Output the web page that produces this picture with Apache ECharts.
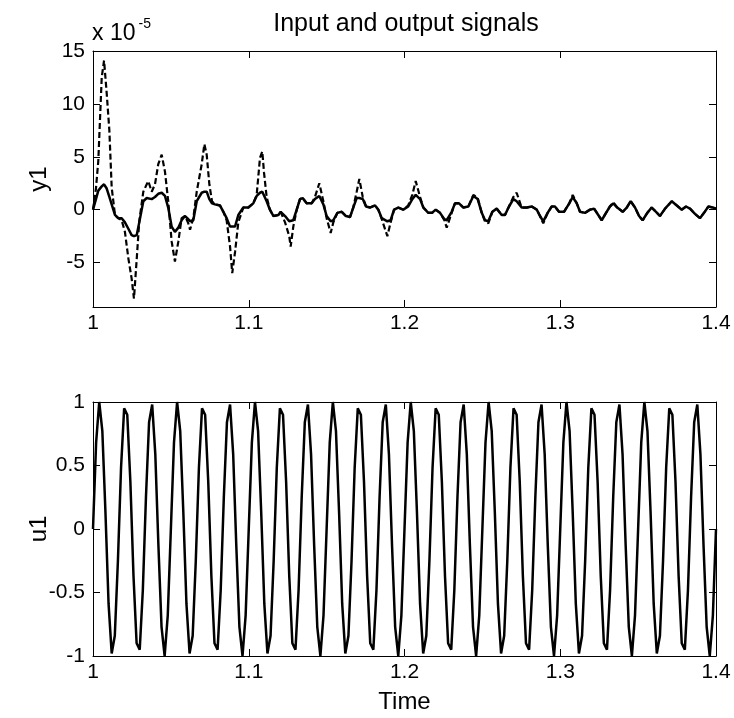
<!DOCTYPE html>
<html>
<head>
<meta charset="utf-8">
<script src="https://cdn.jsdelivr.net/npm/echarts@6/dist/echarts.min.js"></script>
<style>
html,body{margin:0;padding:0;background:#fff;}
#c{width:734px;height:718px;}
</style>
</head>
<body>
<div id="c"></div>
<script>
// ---- data ----
const titleText = 'Input and output signals';
const xTicks = [1, 1.1, 1.2, 1.3, 1.4];
const y1Ticks = [-5, 0, 5, 10, 15];
const u1Ticks = [-1, -0.5, 0, 0.5, 1];
const y1Exponent = '-5';

// y1 signals, in units of 1e-5
const y1Time = [
1.0000,1.0019,1.0034,1.0056,1.0071,1.0088,1.0105,1.0120,1.0141,1.0162,1.0184,1.0205,1.0227,1.0248,1.0263,1.0281,1.0297,
1.0323,1.0345,1.0355,1.0377,1.0398,1.0419,1.0441,1.0462,1.0483,1.0505,1.0526,1.0548,1.0569,1.0591,1.0612,1.0623,1.0644,
1.0666,1.0698,1.0715,1.0730,1.0747,1.0764,1.0783,1.0815,1.0837,1.0858,1.0880,1.0894,1.0912,1.0933,1.0965,1.0997,
1.1029,1.1051,1.1072,1.1087,1.1098,1.1115,1.1136,1.1158,1.1190,1.1205,1.1233,1.1260,1.1269,1.1286,1.1308,1.1329,1.1346,
1.1372,1.1404,1.1425,1.1453,1.1479,1.1500,1.1526,1.1543,1.1569,1.1597,1.1624,1.1650,1.1671,1.1693,1.1710,1.1732,1.1753,
1.1778,1.1811,1.1832,1.1854,1.1890,1.1911,1.1933,1.1960,1.1992,1.2024,1.2050,1.2072,1.2100,1.2121,1.2153,1.2177,1.2200,
1.2228,1.2256,1.2271,1.2303,1.2324,1.2350,1.2378,1.2410,1.2442,1.2470,1.2496,1.2517,1.2538,1.2564,1.2592,1.2624,1.2645,
1.2671,1.2699,1.2720,1.2752,1.2785,1.2817,1.2849,1.2870,1.2891,1.2919,1.2945,1.2966,1.2992,1.3024,1.3058,1.3080,1.3106,
1.3127,1.3159,1.3191,1.3217,1.3244,1.3266,1.3294,1.3319,1.3341,1.3366,1.3401,1.3427,1.3452,1.3480,1.3506,1.3529,1.3559,
1.3587,1.3615,1.3640,1.3673,1.3716,1.3748,1.3780,1.3807,1.3833,1.3865,1.3897,1.3923,1.3951,1.3979,1.4000
];
const y1Solid = [
0.0,1.0,1.8,2.2,2.4,2.0,1.2,0.5,-0.5,-0.8,-0.8,-1.2,-1.8,-2.4,-2.5,-2.4,-1.2,
0.8,1.1,1.1,1.0,1.2,1.5,1.6,1.3,0.2,-1.6,-2.1,-1.7,-1.0,-0.6,-0.9,-1.1,-1.0,
0.8,1.6,1.7,1.7,1.0,0.6,0.5,0.4,-0.2,-0.8,-1.6,-1.6,-1.6,-0.5,0.2,0.2,
0.6,1.3,1.6,1.7,1.7,0.8,0.0,-0.6,-0.5,-0.2,-0.6,-1.1,-1.2,-1.0,0.0,1.0,1.1,
0.6,0.6,1.0,1.3,0.5,-0.6,-1.1,-1.0,-0.3,-0.2,-0.6,-0.7,0.2,1.1,1.1,1.0,0.3,
0.2,0.4,0.0,-0.8,-1.1,-1.0,0.0,0.2,0.0,0.3,1.0,1.4,1.0,0.2,-0.3,-0.3,0.0,
-0.3,-0.9,-1.0,-0.2,0.6,0.6,0.2,0.3,1.3,1.0,-0.3,-1.0,-1.1,-0.2,0.1,-0.5,-0.5,
0.3,1.0,0.8,0.2,0.2,0.3,0.0,-0.6,-1.1,-0.3,0.3,0.3,-0.2,-0.2,0.6,1.2,0.6,
-0.2,-0.3,0.0,0.1,-0.5,-1.0,-0.3,0.3,0.6,0.2,-0.2,0.2,0.8,0.2,-0.6,-1.0,-0.3,
0.2,-0.2,-0.6,0.1,0.8,0.4,0.0,0.3,0.1,-0.4,-0.8,-0.3,0.3,0.2,0.1
];
const y1Dashed = [
0.0,2.0,4.6,12.5,14.1,11.0,7.5,2.1,-0.5,-0.8,-1.0,-2.1,-4.6,-6.5,-8.4,-4.6,-1.1,
1.7,2.4,2.7,1.7,2.4,4.3,5.2,3.6,0.8,-3.0,-4.9,-3.0,-0.8,-0.6,-1.3,-1.9,-0.8,
1.7,4.3,6.2,5.2,2.4,0.8,0.5,0.4,-0.2,-1.0,-3.5,-6.0,-4.0,-1.2,0.2,0.2,
0.6,1.4,4.9,5.5,3.5,1.2,0.0,-0.6,-0.5,-0.2,-1.2,-2.5,-3.5,-1.6,0.0,1.0,1.1,
0.6,0.6,1.2,2.5,0.8,-0.8,-2.2,-1.2,-0.3,-0.2,-0.6,-0.7,0.2,1.7,2.9,1.2,0.3,
0.2,0.4,0.0,-0.9,-2.5,-1.2,0.0,0.2,0.0,0.4,1.4,2.7,1.2,0.2,-0.3,-0.3,0.0,
-0.3,-1.0,-1.7,-0.3,0.6,0.6,0.2,0.3,1.4,1.1,-0.3,-1.1,-1.3,-0.2,0.1,-0.5,-0.5,
0.3,1.2,1.6,0.2,0.2,0.3,0.0,-0.6,-1.3,-0.3,0.3,0.3,-0.2,-0.2,0.6,1.4,0.6,
-0.2,-0.3,0.0,0.1,-0.5,-1.0,-0.3,0.3,0.7,0.2,-0.2,0.2,0.8,0.2,-0.6,-1.0,-0.3,
0.2,-0.2,-0.6,0.1,0.8,0.4,0.0,0.3,0.1,-0.4,-0.8,-0.3,0.3,0.2,0.1
];

// u1 input, sampled every 0.002 s from t = 1
const u1Start = 1;
const u1Step = 0.002;
const u1Values = [
0,0.68,1.00,0.77,0.13,-0.59,-0.98,-0.84,-0.25,0.48,0.95,0.90,0.37,-0.37,-0.90,-0.95,-0.48,0.25,0.84,0.98,0.59,-0.13,-0.77,-1.00,-0.68,
0,0.68,1.00,0.77,0.13,-0.59,-0.98,-0.84,-0.25,0.48,0.95,0.90,0.37,-0.37,-0.90,-0.95,-0.48,0.25,0.84,0.98,0.59,-0.13,-0.77,-1.00,-0.68,
0,0.68,1.00,0.77,0.13,-0.59,-0.98,-0.84,-0.25,0.48,0.95,0.90,0.37,-0.37,-0.90,-0.95,-0.48,0.25,0.84,0.98,0.59,-0.13,-0.77,-1.00,-0.68,
0,0.68,1.00,0.77,0.13,-0.59,-0.98,-0.84,-0.25,0.48,0.95,0.90,0.37,-0.37,-0.90,-0.95,-0.48,0.25,0.84,0.98,0.59,-0.13,-0.77,-1.00,-0.68,
0,0.68,1.00,0.77,0.13,-0.59,-0.98,-0.84,-0.25,0.48,0.95,0.90,0.37,-0.37,-0.90,-0.95,-0.48,0.25,0.84,0.98,0.59,-0.13,-0.77,-1.00,-0.68,
0,0.68,1.00,0.77,0.13,-0.59,-0.98,-0.84,-0.25,0.48,0.95,0.90,0.37,-0.37,-0.90,-0.95,-0.48,0.25,0.84,0.98,0.59,-0.13,-0.77,-1.00,-0.68,
0,0.68,1.00,0.77,0.13,-0.59,-0.98,-0.84,-0.25,0.48,0.95,0.90,0.37,-0.37,-0.90,-0.95,-0.48,0.25,0.84,0.98,0.59,-0.13,-0.77,-1.00,-0.68,
0,0.68,1.00,0.77,0.13,-0.59,-0.98,-0.84,-0.25,0.48,0.95,0.90,0.37,-0.37,-0.90,-0.95,-0.48,0.25,0.84,0.98,0.59,-0.13,-0.77,-1.00,-0.68,
0
];

// ---- build ----
const FONT = 'Liberation Sans, Arial, sans-serif';
const FS = 21;      // tick labels
const FS_LAB = 24;  // axis names
const FS_TITLE = 25;
const y1SolidData = y1Time.map((t, i) => [t, y1Solid[i]]);
const y1DashedData = y1Time.map((t, i) => [t, y1Dashed[i]]);
const u1Data = u1Values.map((v, i) => [u1Start + i * u1Step, v]);

function xAx(grid, pos, showLabel, name) {
  return {
    type: 'value', gridIndex: grid, position: pos, min: 1, max: 1.4,
    axisLine: { show: true, onZero: false, lineStyle: { color: '#000', width: 1 } },
    axisTick: { show: true, inside: true, length: 7, customValues: xTicks, lineStyle: { color: '#000' } },
    axisLabel: { show: showLabel, customValues: xTicks, color: '#000', fontFamily: FONT, fontSize: FS, margin: 6 },
    splitLine: { show: false },
    name: name || '', nameLocation: 'middle', nameGap: 34, nameMoveOverlap: false,
    nameTextStyle: { color: '#000', fontFamily: FONT, fontSize: FS_LAB }
  };
}
function yAx(grid, pos, showLabel, min, max, ticks, name) {
  return {
    type: 'value', gridIndex: grid, position: pos, min: min, max: max,
    axisLine: { show: true, onZero: false, lineStyle: { color: '#000', width: 1 } },
    axisTick: { show: true, inside: true, length: 7, customValues: ticks, lineStyle: { color: '#000' } },
    axisLabel: { show: showLabel, customValues: ticks, color: '#000', fontFamily: FONT, fontSize: FS, margin: 8 },
    splitLine: { show: false },
    name: name || '', nameLocation: 'middle', nameGap: 42, nameRotate: 90, nameMoveOverlap: false,
    nameTextStyle: { color: '#000', fontFamily: FONT, fontSize: FS_LAB }
  };
}

const chart = echarts.init(document.getElementById('c'), null, { renderer: 'canvas' });
chart.setOption({
  backgroundColor: '#fff',
  animation: false,
  title: {
    text: titleText, left: 401, top: 7, textAlign: 'center',
    textStyle: { color: '#000', fontFamily: FONT, fontSize: FS_TITLE, fontWeight: 'normal' }
  },
  graphic: [{
    type: 'text', left: 92, top: 17,
    style: {
      text: '{a|x 10}{b|' + y1Exponent + '}',
      rich: {
        a: { fontFamily: FONT, fontSize: 23, fill: '#000', verticalAlign: 'bottom' },
        b: { fontFamily: FONT, fontSize: 14, fill: '#000', verticalAlign: 'top', padding: [0, 0, 14, 3] }
      }
    }
  }],
  grid: [
    { left: 93, top: 51, width: 623, height: 256, show: false },
    { left: 93, top: 402, width: 623, height: 254, show: false }
  ],
  xAxis: [
    xAx(0, 'bottom', true),
    xAx(0, 'top', false),
    xAx(1, 'bottom', true, 'Time'),
    xAx(1, 'top', false)
  ],
  yAxis: [
    yAx(0, 'left', true, -9.2, 15, y1Ticks, 'y1'),
    yAx(0, 'right', false, -9.2, 15, y1Ticks),
    yAx(1, 'left', true, -1, 1, u1Ticks, 'u1'),
    yAx(1, 'right', false, -1, 1, u1Ticks)
  ],
  series: [
    { name: 'y1 dashed', type: 'line', xAxisIndex: 0, yAxisIndex: 0, data: y1DashedData,
      showSymbol: false, symbol: 'none', lineStyle: { color: '#000', width: 2.2, type: [6, 3] } },
    { name: 'y1', type: 'line', xAxisIndex: 0, yAxisIndex: 0, data: y1SolidData,
      showSymbol: false, symbol: 'none', lineStyle: { color: '#000', width: 2.5 } },
    { name: 'u1', type: 'line', xAxisIndex: 2, yAxisIndex: 2, data: u1Data,
      showSymbol: false, symbol: 'none', lineStyle: { color: '#000', width: 2.5 } }
  ]
});
</script>
</body>
</html>
